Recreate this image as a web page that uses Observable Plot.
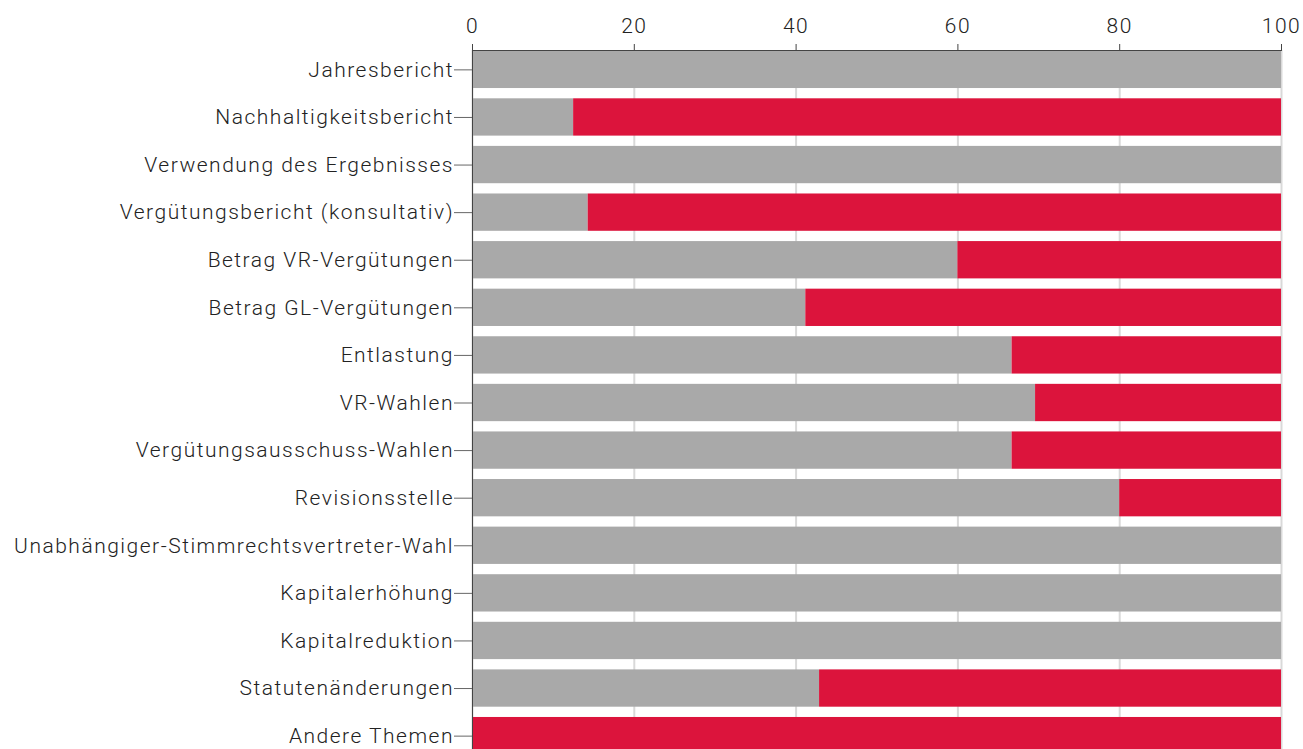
<!DOCTYPE html>
<html>
<head>
<meta charset="utf-8">
<script src="https://cdn.jsdelivr.net/npm/d3@7"></script>
<script src="https://cdn.jsdelivr.net/npm/@observablehq/plot@0.6"></script>
<style>
  html, body { margin: 0; padding: 0; background: #fff; overflow: hidden; }
  #chart svg { display: block; }
  #chart svg text { letter-spacing: 1.5px; }
</style>
</head>
<body>
<div id="chart"></div>
<script>
const categories = [
  "Jahresbericht",
  "Nachhaltigkeitsbericht",
  "Verwendung des Ergebnisses",
  "Vergütungsbericht (konsultativ)",
  "Betrag VR-Vergütungen",
  "Betrag GL-Vergütungen",
  "Entlastung",
  "VR-Wahlen",
  "Vergütungsausschuss-Wahlen",
  "Revisionsstelle",
  "Unabhängiger-Stimmrechtsvertreter-Wahl",
  "Kapitalerhöhung",
  "Kapitalreduktion",
  "Statutenänderungen",
  "Andere Themen"
];
const grayValues = [100, 12.5, 100, 14.3, 60, 41.2, 66.7, 69.6, 66.7, 80, 100, 100, 100, 42.9, 0];
const redValues  = [0, 87.5, 0, 85.7, 40, 58.8, 33.3, 30.4, 33.3, 20, 0, 0, 0, 57.1, 100];
const seriesNames = ["grau", "rot"];
const seriesColors = ["#a9a9a9", "#dc143c"];
const xTicks = [0, 20, 40, 60, 80, 100];

const rows = [];
categories.forEach((c, i) => {
  rows.push({category: c, series: seriesNames[0], value: grayValues[i]});
  rows.push({category: c, series: seriesNames[1], value: redValues[i]});
});

const chart = Plot.plot({
  width: 1303,
  height: 755,
  marginTop: 50,
  marginBottom: 0,
  marginLeft: 472,
  marginRight: 22,
  style: {fontFamily: "Roboto, sans-serif", color: "#222", background: "#fff"},
  x: {domain: [0, 100], axis: null, label: null},
  y: {domain: categories, paddingInner: 0.216, paddingOuter: 0.015, round: false, axis: null, label: null},
  color: {domain: seriesNames, range: seriesColors},
  marks: [
    Plot.gridX(xTicks, {stroke: "#d9d9d9", strokeOpacity: 1, strokeWidth: 2}),
    Plot.barX(rows, {y: "category", x: "value", fill: "series", order: seriesNames}),
    Plot.axisX(xTicks, {anchor: "top", label: null, tickSize: 7, tickPadding: 11, fontSize: 21, stroke: "#444", fill: "#222", fontWeight: 300}),
    Plot.axisY({anchor: "left", label: null, tickSize: 18, tickPadding: 0.5, fontSize: 21, stroke: "#666", fill: "#222", fontWeight: 300}),
    Plot.frame({anchor: "top", stroke: "#444"}),
    Plot.frame({anchor: "left", stroke: "#444"})
  ]
});
document.getElementById("chart").appendChild(chart);
</script>
</body>
</html>
